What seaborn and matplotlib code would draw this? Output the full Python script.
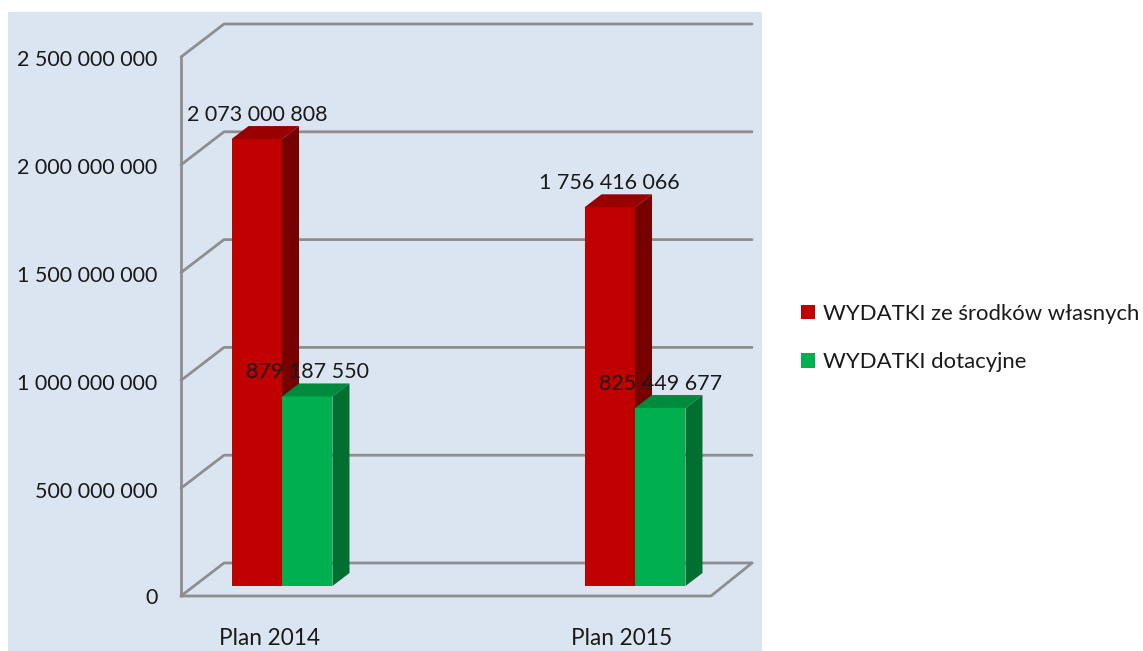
import pandas as pd
import matplotlib
matplotlib.use("Agg")
import matplotlib.pyplot as plt
from matplotlib.lines import Line2D
from matplotlib.patches import Polygon, Rectangle
from matplotlib.transforms import Affine2D, IdentityTransform
import seaborn as sns

# ----------------------------------
# Data
# ----------------------------------
plans = ["Plan 2014", "Plan 2015"]
own_funds = [2073000808, 1756416066]
subsidies = [879187550, 825449677]
series_names = ["WYDATKI ze środków własnych", "WYDATKI dotacyjne"]
y_ticks = [0, 500000000, 1000000000, 1500000000, 2000000000, 2500000000]

# ----------------------------------
# Style
# ----------------------------------
W, H = 1143, 651
FRONT_COLORS = ["#C00000", "#00B050"]
TOP_COLORS = ["#990000", "#008A3E"]
SIDE_COLORS = ["#760000", "#006F2F"]
PANEL = "#DBE5F1"
WALL = "#8E8E8E"
TEXT = "#1A1A1A"

sns.set_style("white")
plt.rcParams["font.family"] = ["Lato", "DejaVu Sans"]
plt.rcParams["font.size"] = 15.5


def spaced(value):
    return f"{value:,}".replace(",", " ")


df = pd.DataFrame({
    "plan": plans * 2,
    "value": own_funds + subsidies,
    "series": [series_names[0]] * 2 + [series_names[1]] * 2,
})

fig = plt.figure(figsize=(W / 100, H / 100), dpi=100, facecolor="white")
fig.add_artist(Rectangle((8 / W, 0), 754 / W, 1 - 12 / H, transform=fig.transFigure,
                         facecolor=PANEL, edgecolor="none", zorder=-5))

# axes with the tick labels and the walls, bars sit 10 px higher on the floor
wall_ax = fig.add_axes([181 / W, 1 - 596 / H, 530 / W, 539 / H], facecolor="none", zorder=1)
bar_ax = fig.add_axes([181 / W, 1 - 586 / H, 530 / W, 539 / H], facecolor="none", zorder=2)

sns.barplot(data=df, x="plan", y="value", hue="series", hue_order=series_names,
            palette=FRONT_COLORS, saturation=1, width=0.286, linewidth=0, ax=bar_ax)

handles, labels = bar_ax.get_legend_handles_labels()
bar_ax.get_legend().remove()

bar_ax.set_xlim((181 - 282) / 353, (711 - 282) / 353)
bar_ax.set_ylim(0, 2500000000)
bar_ax.axis("off")

wall_ax.set_xlim((181 - 270) / 352, (711 - 270) / 352)
wall_ax.set_ylim(0, 2500000000)
wall_ax.set_xticks(range(len(plans)), plans)
wall_ax.set_yticks(y_ticks, [spaced(t) for t in y_ticks])
wall_ax.tick_params(axis="both", length=0, labelcolor=TEXT)
wall_ax.tick_params(axis="x", pad=23, labelsize=16.3)
wall_ax.tick_params(axis="y", pad=17, labelsize=15.5)
wall_ax.grid(False)
for spine in wall_ax.spines.values():
    spine.set_visible(False)

# tick labels sit a little under their grid level
for label in wall_ax.get_yticklabels()[1:]:
    label.set_transform(label.get_transform() + Affine2D().translate(0, -1.5))

# ----------------------------------
# Pseudo 3D walls
# ----------------------------------
WALL_DX, WALL_DY = 43, 33


def wall_line(xs, ys):
    wall_ax.add_line(Line2D(xs, ys, color=WALL, lw=2, transform=IdentityTransform(),
                            clip_on=False, zorder=1))


x0 = wall_ax.transData.transform((wall_ax.get_xlim()[0], 0))[0]
x1 = wall_ax.transData.transform((wall_ax.get_xlim()[1], 0))[0]
y0 = wall_ax.transData.transform((0, 0))[1]
y_top = wall_ax.transData.transform((0, y_ticks[-1]))[1]

for tick in y_ticks:
    y = wall_ax.transData.transform((0, tick))[1]
    wall_line([x0, x0 + WALL_DX, x1 + WALL_DX - 2], [y, y + WALL_DY, y + WALL_DY])

wall_line([x0, x0], [y0, y_top])
wall_line([x0, x1, x1 + WALL_DX - 2], [y0, y0, y0 + WALL_DY])

# ----------------------------------
# Bars: side and top faces, labels
# ----------------------------------
BAR_DX, BAR_DY = 17, 13

for i, container in enumerate(bar_ax.containers):
    for bar in container:
        bar.set_zorder(3 + i)
        (xl, yb), (xr, yt) = bar_ax.transData.transform(
            [(bar.get_x(), 0), (bar.get_x() + bar.get_width(), bar.get_height())]
        )
        side = [(xr, yb), (xr + BAR_DX, yb + BAR_DY), (xr + BAR_DX, yt + BAR_DY), (xr, yt)]
        top = [(xl, yt), (xr, yt), (xr + BAR_DX, yt + BAR_DY), (xl + BAR_DX, yt + BAR_DY)]
        bar_ax.add_patch(Polygon(side, facecolor=SIDE_COLORS[i], edgecolor="none",
                                 transform=IdentityTransform(), clip_on=False, zorder=3 + i))
        bar_ax.add_patch(Polygon(top, facecolor=TOP_COLORS[i], edgecolor="none",
                                 transform=IdentityTransform(), clip_on=False, zorder=3 + i))
        bar_ax.annotate(spaced(int(bar.get_height())),
                        (bar.get_x() + bar.get_width() / 2, bar.get_height()),
                        xytext=(0, 17.5), textcoords="offset points", ha="center", va="center",
                        color=TEXT, fontsize=15.5, zorder=10, annotation_clip=False)

# ----------------------------------
# Legend
# ----------------------------------
fig.legend(handles, labels, loc="center left", bbox_to_anchor=(801 / W, 1 - 338 / H),
           frameon=False, fontsize=15.9, handlelength=0.62, handleheight=0.62,
           handletextpad=0.38, labelspacing=1.3, labelcolor=TEXT, borderpad=0, borderaxespad=0)

fig.savefig("out.png", dpi=100)
